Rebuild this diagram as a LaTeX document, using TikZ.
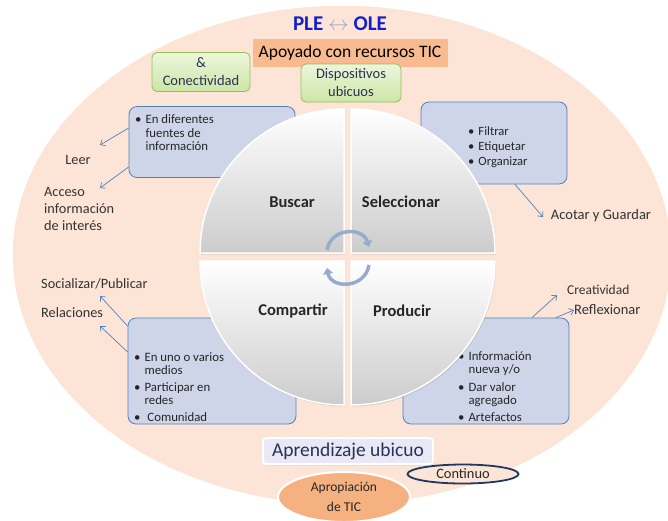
\documentclass[tikz,border=0pt]{standalone}
\usepackage{fontspec}
\setmainfont{Carlito}
\usetikzlibrary{arrows.meta, shapes.geometric, shadows}

\definecolor{peach}{RGB}{252,229,214}
\definecolor{boxblue}{RGB}{207,213,232}
\definecolor{edgeblue}{RGB}{79,129,189}
\definecolor{greentop}{RGB}{236,246,220}
\definecolor{greenbot}{RGB}{205,230,165}
\definecolor{greenedge}{RGB}{155,187,89}
\definecolor{tanfill}{RGB}{248,186,142}
\definecolor{apropfill}{RGB}{245,178,128}
\definecolor{navy}{RGB}{31,56,100}
\definecolor{pleblue}{RGB}{20,30,205}
\definecolor{slate}{RGB}{40,50,85}
\definecolor{turnblue}{RGB}{150,172,205}
\definecolor{lavender}{RGB}{232,232,246}

\newcommand{\bul}{\textbullet}

\begin{document}
\begin{tikzpicture}[x=1pt, y=-1pt,
  infobox/.style={draw=edgeblue, fill=boxblue, rounded corners=8pt, line width=0.8pt, inner sep=0pt},
  greenbox/.style={draw=greenedge, top color=greentop, bottom color=greenbot, rounded corners=5pt,
    line width=0.8pt, minimum width=98pt, minimum height=39pt, align=center, text=slate,
    font=\fontsize{14.5}{18}\selectfont, inner sep=0pt},
  quad/.style={draw=white, line width=1.5pt, top color=white, bottom color=gray!40,
    drop shadow={opacity=0.25, shadow xshift=1pt, shadow yshift=-1.5pt}},
  stage/.style={font=\fontsize{16.5}{19}\selectfont\bfseries, text=black!85},
  itemtext/.style={anchor=north west, inner sep=0pt, align=left, text=black!85},
  lbl/.style={font=\fontsize{14.3}{17}\selectfont, inner sep=0pt, align=left, text=black!80},
  link/.style={draw=edgeblue, line width=0.7pt, -{Straight Barb[length=4pt, width=7pt]}},
  turn/.style={draw=turnblue, line width=3.5pt, -{Triangle[length=6pt, width=10pt]}}
]
\useasboundingbox (0,0) rectangle (668,520);

% background
\fill[peach, draw=white, line width=1.5pt] (342,255) ellipse [x radius=330, y radius=250];

% title and top boxes
\node (title) at (340,24) {\fontsize{21}{24}\selectfont\bfseries\color{pleblue}PLE \textcolor{turnblue}{$\leftrightarrow$} OLE};
\node[fill=tanfill, minimum width=195pt, minimum height=28pt, inner sep=0pt, font=\fontsize{17.5}{20}\selectfont] (tic) at (350,53) {Apoyado con recursos TIC};
\node[greenbox] (conect) at (201,72) {\&\\Conectividad};
\node[greenbox, minimum width=100pt, minimum height=38pt] (dispo) at (351,83) {Dispositivos\\ubicuos};

% blue boxes
\node[infobox, minimum width=166pt, minimum height=71pt] (buscabox) at (212,142) {};
\node[infobox, minimum width=146pt, minimum height=82pt] (selebox) at (494,143) {};
\node[infobox, minimum width=168pt, minimum height=106pt] (compbox) at (212,371) {};
\node[infobox, minimum width=166pt, minimum height=106pt] (prodbox) at (486,371) {};

\node[itemtext, font=\fontsize{12.8}{13.5}\selectfont] (buscatext) at (135,114)
  {\begin{tabular}{@{}l@{\hspace{4pt}}l@{}}\bul & En diferentes\\ & fuentes de\\ & información\end{tabular}};
\node[itemtext, font=\fontsize{12.6}{15}\selectfont] (seletext) at (468,125)
  {\begin{tabular}{@{}l@{\hspace{4pt}}l@{}}\bul & Filtrar\\ \bul & Etiquetar\\ \bul & Organizar\end{tabular}};
\node[itemtext, font=\fontsize{12.8}{13}\selectfont] (comptext) at (134,352)
  {\begin{tabular}{@{}l@{\hspace{4pt}}l@{}}\bul & En uno o varios\\ & medios\\[4pt] \bul & Participar en\\ & redes\\[4pt] \bul & \ Comunidad\end{tabular}};
\node[itemtext, font=\fontsize{12.8}{13}\selectfont] (prodtext) at (458,351)
  {\begin{tabular}{@{}l@{\hspace{4pt}}l@{}}\bul & Información\\ & nueva y/o\\[5pt] \bul & Dar valor\\ & agregado\\[4pt] \bul & Artefactos\end{tabular}};

% circle of four stages
\path[quad] (344,253) -- ++(-144,0) arc[start angle=180, end angle=270, radius=144] -- cycle;
\path[quad] (351,253) -- ++(0,-144) arc[start angle=270, end angle=360, radius=144] -- cycle;
\path[quad] (351,261) -- ++(144,0) arc[start angle=0, end angle=90, radius=144] -- cycle;
\path[quad] (344,261) -- ++(0,144) arc[start angle=90, end angle=180, radius=144] -- cycle;

\node[stage] (buscar) at (292,202) {Buscar};
\node[stage] (seleccionar) at (401,202) {Seleccionar};
\node[stage] (compartir) at (293,311) {Compartir};
\node[stage] (producir) at (402,311) {Producir};

\draw[turn] (327,250) .. controls (331,227) and (363,227) .. (369,247);
\draw[turn] (369,265) .. controls (365,289) and (331,289) .. (327,268);

% outer labels
\node[lbl] (leer) at (78,160) {Leer};
\node[lbl, anchor=west] (acceso) at (44,209) {Acceso\\información\\de interés};
\node[lbl, font=\fontsize{14.5}{17}\selectfont] (acotar) at (601,216) {Acotar y Guardar};
\node[lbl, anchor=west] (socializar) at (41,284) {Socializar/Publicar};
\node[lbl, anchor=west] (relaciones) at (41,313) {Relaciones};
\node[lbl, anchor=west, font=\fontsize{13.5}{15}\selectfont] (creatividad) at (567,290) {Creatividad};
\node[lbl, anchor=west, font=\fontsize{14.5}{17}\selectfont] (reflexionar) at (574,310) {Reflexionar};

\coordinate (leertip) at (100,145);
\coordinate (accesotip) at (100,188);
\coordinate (acotartip) at (543,217);
\coordinate (socialtip) at (100,296);
\coordinate (relactip) at (100,326);
\coordinate (creatip) at (557,295);

\draw[link] ([yshift=14pt]buscabox.west) -- (leertip);
\draw[link] ([yshift=-25pt]buscabox.west) -- (accesotip);
\draw[link] ([xshift=21pt]selebox.south) -- (acotartip);
\draw[link] ([yshift=45pt]compbox.west) -- (socialtip);
\draw[link] ([yshift=19pt]compbox.west) -- (relactip);
\draw[link] ([xshift=46pt]prodbox.north) -- (creatip);
\draw[link] ([xshift=70pt]prodbox.north) -- (reflexionar.west);

% bottom
\node[fill=lavender, draw=white, line width=2pt, rounded corners=3pt, minimum width=170pt, minimum height=26pt,
  inner sep=0pt, text=slate, font=\fontsize{19.5}{22}\selectfont,
  drop shadow={opacity=0.2, shadow xshift=1pt, shadow yshift=-1.5pt}] (ubicuo) at (348,451) {Aprendizaje ubicuo};
\node[ellipse, fill=apropfill, draw=white, line width=2pt, minimum width=132pt, minimum height=50pt, inner sep=0pt,
  align=center, font=\fontsize{13.5}{20}\selectfont, text=black!85] (apropia) at (344,497) {Apropiación\\de TIC};
\node[ellipse, fill=peach, draw=navy, line width=1.8pt, minimum width=111pt, minimum height=19pt, inner sep=0pt,
  font=\fontsize{14.4}{16}\selectfont, text=black!85] (continuo) at (463,474) {Continuo};
\end{tikzpicture}
\end{document}
